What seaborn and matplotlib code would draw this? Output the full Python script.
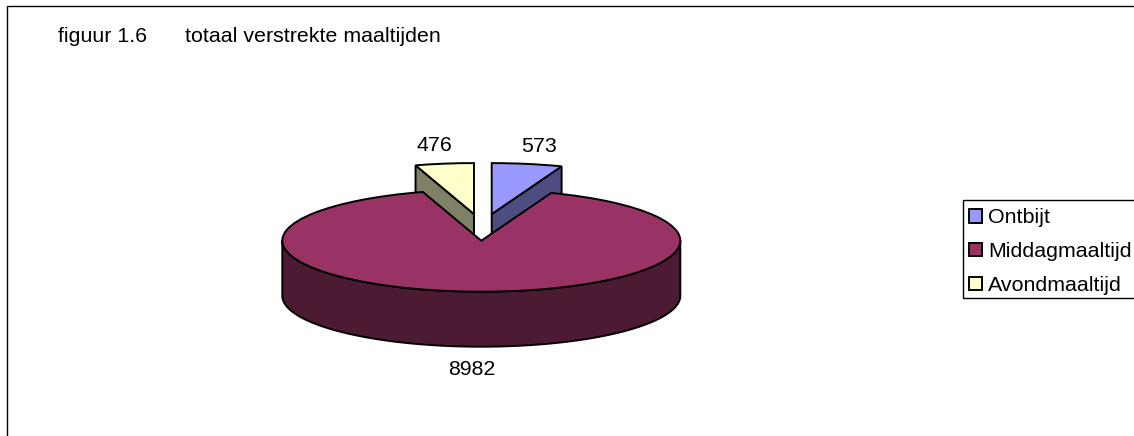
import numpy as np
import matplotlib
matplotlib.use("Agg")
import matplotlib.pyplot as plt
from matplotlib.patches import Rectangle
import seaborn as sns

# --- data ---
categories = ["Ontbijt", "Middagmaaltijd", "Avondmaaltijd"]
values = [573, 8982, 476]
title_parts = ["figuur 1.6", "totaal verstrekte maaltijden"]

# --- style ---
top_colors = ["#9999FF", "#993366", "#FFFFCC"]
side_colors = ["#4D4D80", "#4D1A33", "#808066"]
W, H = 1134, 436
CX, CY, RX, RY, DEPTH = 481.3, 240.7, 199.0, 51.0, 55.0
LW = 1.4
FS = 15.4

sns.set_theme(style="white")
plt.rcParams["font.family"] = ["Liberation Sans", "DejaVu Sans"]
plt.rcParams["font.size"] = FS
plt.rcParams["text.color"] = "black"

fig = plt.figure(figsize=(W / 100, H / 100), dpi=100, facecolor="white")
ax = fig.add_axes([0, 0, 1, 1])

edge = dict(edgecolor="black", linewidth=LW, joinstyle="miter")
wedges, _ = ax.pie(values, startangle=90, counterclock=False,
                   colors=sns.color_palette(top_colors), wedgeprops=edge)
ax.set_aspect("auto")
ax.set_xlim(-CX / RX, (W - CX) / RX)
ax.set_ylim(-(H - CY) / RY, CY / RY)
ax.set_frame_on(False)
ax.set_xticks([])
ax.set_yticks([])


def to_data(px, py):
    return (px - CX) / RX, (CY - py) / RY


d = DEPTH / RY

# exploded slices: shift, then give each its visible cut face
shifts = {0: (10.4 / RX, 26.6 / RY), 2: (-7.3 / RX, 26.6 / RY)}
for i, (sx, sy) in shifts.items():
    w = wedges[i]
    w.set_center((sx, sy))
    w.set_zorder(3)
    a = np.deg2rad(w.theta1 if i == 0 else w.theta2)
    ox, oy = sx + np.cos(a), sy + np.sin(a)
    ax.fill([sx, ox, ox, sx], [sy, oy, oy - d, sy - d],
            facecolor=side_colors[i], zorder=2, **edge)

# main slice: rim, then top surface over the cut faces
t = np.linspace(np.pi, 2 * np.pi, 200)
xs = np.concatenate([np.cos(t), np.cos(t[::-1])])
ys = np.concatenate([np.sin(t), np.sin(t[::-1]) - d])
ax.fill(xs, ys, facecolor=side_colors[1], zorder=4, **edge)
wedges[1].set_zorder(5)

# data labels
label_px = [(539.5, 147.0), (471.5, 369.0), (434.0, 145.5)]
for v, (px, py) in zip(values, label_px):
    x, y = to_data(px, py)
    ax.text(x, y, str(v), ha="center", va="center", color="black",
            fontsize=FS, zorder=6)

# title
for part, px in zip(title_parts, (58, 185)):
    fig.text(px / W, 1 - 36.5 / H, part, ha="left", va="center",
             color="black", fontsize=FS)

# outer chart border (runs off the right and bottom of the picture)
ax.add_patch(Rectangle((6.5 / W, -0.1), 1.2, 1.1 - 6.5 / H, fill=False,
                       edgecolor="black", linewidth=1.0, zorder=1,
                       transform=fig.transFigure, clip_on=False))

# legend box (runs off the right of the picture)
ax.add_patch(Rectangle((962.5 / W, 1 - 297.5 / H), 0.2, 98 / H,
                       facecolor="white", edgecolor="black", linewidth=1.0,
                       zorder=9, transform=fig.transFigure, clip_on=False))

# legend
leg = ax.legend(wedges, categories, loc="upper left",
                bbox_to_anchor=(960.5 / W, 1 - 199.5 / H),
                bbox_transform=fig.transFigure, borderaxespad=0,
                fontsize=FS, frameon=False, handlelength=0.6, handleheight=0.6,
                handletextpad=0.28, borderpad=0.42, labelspacing=0.69)
leg.set_zorder(10)
for txt in leg.get_texts():
    txt.set_color("black")

fig.savefig("out.png", dpi=100, facecolor="white")
